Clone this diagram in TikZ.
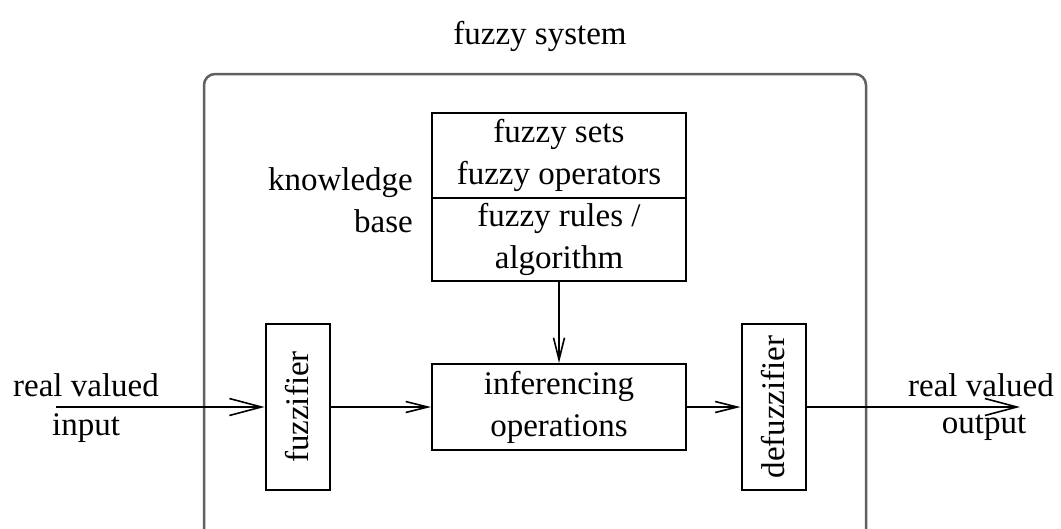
\documentclass[tikz,border=0pt]{standalone}
\usepackage{fontspec}
\setmainfont{Liberation Serif}
\usetikzlibrary{arrows.meta}
\begin{document}
\begin{tikzpicture}[x=1pt,y=-1pt,
  every node/.style={font=\fontsize{33}{42}\selectfont, inner sep=0pt},
  blk/.style={draw, line width=2pt, minimum width=254pt, align=center},
  kbpart/.style={minimum width=254pt, align=center},
  vblk/.style={draw, line width=2pt, rotate=90, minimum width=166pt, minimum height=64pt},
  flow/.style={line width=2pt, -{Straight Barb[length=32pt, width=17pt, line width=1.6pt]}},
  link/.style={line width=2pt, -{Straight Barb[length=22pt, width=11pt, line width=1.6pt]}}]
  \useasboundingbox (0,0) rectangle (1061,528);

  % enclosing system frame, open at the bottom
  \draw[line width=2.5pt, gray!75!black, rounded corners=11pt]
    (204,540) -- (204,74) -- (866,74) -- (866,540);
  \node (title) at (540,36) {fuzzy system};

  % knowledge base: two stacked compartments in one frame
  \node[kbpart, minimum height=85pt] (kbtop) at (559,155.5) {fuzzy sets\\fuzzy operators};
  \node[kbpart, minimum height=82pt, anchor=north] (kbbot) at (kbtop.south) {fuzzy rules /\\algorithm};
  \draw[line width=2pt] (kbtop.north west) rectangle (kbbot.south east);
  \draw[line width=2pt] (kbtop.south west) -- (kbtop.south east);
  \node[align=right, anchor=east] (kblabel) at (413,200) {knowledge\\base};

  % processing chain
  \node[vblk] (fuzz) at (297.5,407) {fuzzifier};
  \node[blk, minimum height=86pt] (inf) at (559,407) {inferencing\\operations};
  \node[vblk] (defuzz) at (773.5,407) {defuzzifier};

  % input and output
  \coordinate (in) at (56,407);
  \coordinate (out) at (1020,407);
  \node (inA) at (86,385) {real valued};
  \node (inB) at (86,428) {input};
  \node (outA) at (981,385) {real valued};
  \node (outB) at (984,428) {output};

  \draw[flow] (in) -- (fuzz.north);
  \draw[link] (fuzz.south) -- (inf.west);
  \draw[link] (kbbot.south) -- (inf.north);
  \draw[link] (inf.east) -- (defuzz.north);
  \draw[flow] (defuzz.south) -- (out);
\end{tikzpicture}
\end{document}
